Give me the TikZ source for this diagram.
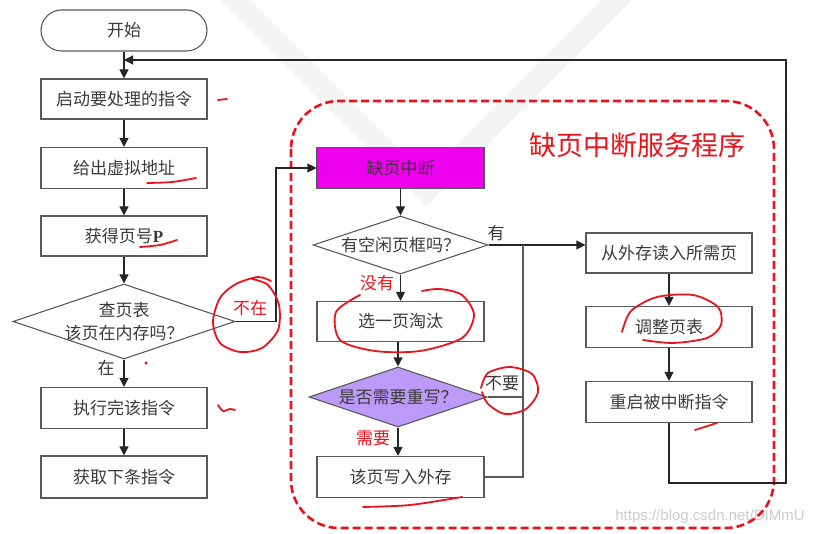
\documentclass[tikz,border=0pt]{standalone}
\usepackage{fontspec}
\setmainfont{Liberation Serif}
\newfontfamily\cjk{Noto Sans CJK SC}
\newfontfamily\wmfont{Liberation Sans}
\usetikzlibrary{arrows.meta,shapes.geometric}
\definecolor{txt}{HTML}{3A3A3A}
\definecolor{edge}{HTML}{5A5A5A}
\definecolor{mag}{HTML}{EE00EE}
\definecolor{lav}{HTML}{BC9AF7}
\definecolor{rd}{HTML}{E8141B}
\begin{document}
\begin{tikzpicture}[x=1pt,y=-1pt,
  box/.style={draw=edge, line width=1.1pt, minimum width=166pt, minimum height=41pt, inner sep=0pt, text=txt, font=\cjk\fontsize{17}{20}\selectfont},
  dia/.style={draw=edge, line width=1.1pt, shape=diamond, inner sep=0pt},
  lbl/.style={text=txt, font=\cjk\fontsize{17}{23}\selectfont, inner sep=0pt, align=center},
  rlbl/.style={lbl, text=rd},
  arr/.style={draw=black!85, line width=1.1pt, -{Triangle[length=9pt,width=9pt]}},
  ln/.style={draw=edge, line width=1.1pt},
  scrib/.style={draw=rd, line width=1.8pt, line cap=round, line join=round}]
\useasboundingbox (0,0) rectangle (818,534);
% watermark band
\begin{scope}
\clip (0,0) rectangle (818,534);
\draw[line width=22pt, gray!8, line join=miter] (215,-20) -- (426,191) -- (637,-20);
\end{scope}
\node[text=gray!40, font=\wmfont\fontsize{15}{17}\selectfont, inner sep=0pt] (wm) at (710,517) {https://blog.csdn.net/DIMmU};

% red dashed region
\draw[draw=rd, line width=2.6pt, dash pattern=on 8pt off 4pt, rounded corners=48pt] (291,101) rectangle (774,528);
\node[text=rd, font=\cjk\fontsize{27}{30}\selectfont, inner sep=0pt] (title) at (637,145) {缺页中断服务程序};

% left column
\node[box, rounded corners=20.5pt] (start) at (124,30.5) {开始};
\node[box, minimum height=40pt] (b1) at (124,99) {启动要处理的指令};
\node[box] (b2) at (124,168) {给出虚拟地址};
\node[box, minimum height=40pt] (b3) at (124,236) {获得页号{\bfseries\rmfamily P}};
\node[dia, minimum width=222pt, minimum height=75pt] (d1) at (124,321.5) {};
\node[lbl] (d1t) at (d1.center) {查页表\\该页在内存吗？};
\node[box] (b4) at (124,408) {执行完该指令};
\node[box, minimum height=42pt] (b5) at (124,477) {获取下条指令};

% middle column
\node[box, fill=mag, minimum width=167pt] (m1) at (400.5,168) {缺页中断};
\node[dia, minimum width=175pt, minimum height=58pt] (d2) at (400.5,245) {};
\node[lbl] (d2t) at (d2.center) {有空闲页框吗？};
\node[box, minimum width=167pt, minimum height=40pt] (m2) at (400.5,321.5) {选一页淘汰};
\node[dia, fill=lav, minimum width=178pt, minimum height=60pt] (d3) at (398,397) {};
\node[lbl] (d3t) at (d3.center) {是否需要重写？};
\node[box, minimum width=167pt] (m3) at (400.5,477) {该页写入外存};

% right column
\node[box, minimum height=40pt] (r1) at (669,253) {从外存读入所需页};
\node[box] (r2) at (669,327) {调整页表};
\node[box] (r3) at (669,402) {重启被中断指令};

% coordinates
\coordinate (k2) at (276,168);
\coordinate (v1) at (523,245);
\coordinate (f1) at (786,483);
\coordinate (f2) at (786,60);

% connectors
\draw[arr] (start.south) -- (b1.north);
\draw[arr] (b1.south) -- (b2.north);
\draw[arr] (b2.south) -- (b3.north);
\draw[arr] (b3.south) -- (d1.north);
\draw[arr] (d1.south) -- (b4.north);
\draw[arr] (b4.south) -- (b5.north);
\draw[arr] (d1.east) -| (k2) -- (m1.west);
\draw[arr] (m1.south) -- (d2.north);
\draw[arr] (d2.south) -- (m2.north);
\draw[arr] (m2.south -| d3.north) -- (d3.north);
\draw[arr] (d3.south) -- (d3.south |- m3.north);
\draw[arr] (d2.east) -- (d2.east -| r1.west);
\draw[ln] (m3.east) -| (v1);
\draw[ln] (d3.east) -- (d3.east -| v1);
\draw[arr] (r1.south) -- (r2.north);
\draw[arr] (r2.south) -- (r3.north);
\draw[arr] (r3.south) |- (f1) -- (f2) -- (start.south |- f2);

% labels
\node[rlbl] (lbnz) at (250,308) {不在};
\node[lbl] (lbz) at (106,368) {在};
\node[lbl] (lby) at (496,233) {有};
\node[rlbl] (lbmy) at (377,283) {没有};
\node[lbl] (lbby) at (502,383) {不要};
\node[rlbl] (lbxy) at (373,438) {需要};

% red annotation scribbles
\draw[scrib] (218,100) -- (227,99);
\draw[scrib] plot[smooth] coordinates {(147,183) (172,182) (196,178)};
\draw[scrib] plot[smooth] coordinates {(140,247) (160,245) (177,240)};
\draw[scrib] plot[smooth] coordinates {(252,279) (268,285) (279,305) (278,330) (262,348) (240,352) (220,343) (213,322) (220,298) (236,284) (258,277) (271,281)};
\fill[rd] (146,363) circle (1.6pt);
\draw[scrib] plot[smooth] coordinates {(218,405) (223,411) (230,409) (235,410)};
\draw[scrib] plot[smooth] coordinates {(360,295) (336,312) (340,340) (375,351) (420,351) (462,338) (474,315) (462,295) (440,289) (422,291)};
\draw[scrib] plot[smooth] coordinates {(481,388) (488,373) (510,367) (532,374) (538,392) (526,409) (505,414) (488,404) (482,392)};
\draw[scrib] plot[smooth] coordinates {(363,507) (410,505) (462,497)};
\draw[scrib] plot[smooth] coordinates {(622,332) (631,311) (657,297) (693,295) (718,307) (721,325) (707,338) (673,343) (643,340)};
\draw[scrib] (695,430) -- (717,423);
\end{tikzpicture}
\end{document}
